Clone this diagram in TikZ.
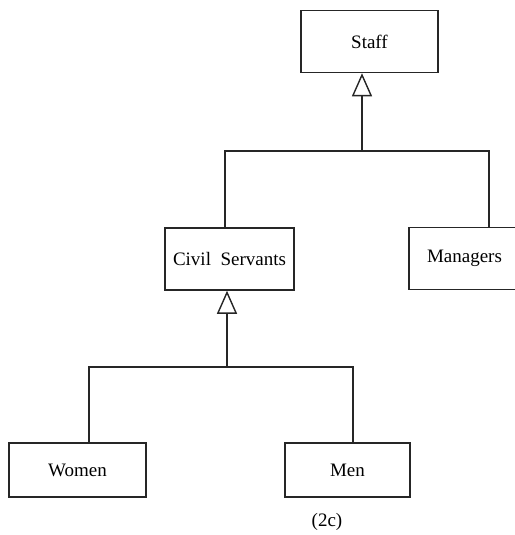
\documentclass[tikz,border=0pt]{standalone}
\usepackage{fontspec}
\setmainfont{Liberation Serif}
\usetikzlibrary{arrows.meta}

\begin{document}
\begin{tikzpicture}[x=1pt, y=-1pt,
        cls/.style={draw=black!85, line width=1.5pt, fill=white, inner sep=0pt, minimum height=62pt, font=\fontsize{19}{22}\selectfont},
        link/.style={draw=black!85, line width=1.4pt},
        gen/.style={link, -{Triangle[open, length=23pt, width=20pt, fill=white]}}]
        \useasboundingbox (0,0) rectangle (514,535);

        \node[cls, minimum width=137pt] (staff) at (369.5,41.5) {Staff};
        \node[cls, minimum width=129pt] (cs) at (229.5,259) {Civil\ \ Servants};
        \node[cls, minimum width=111pt] (mg) at (464.5,258.5) {Managers};
        \node[cls, minimum width=137pt, minimum height=54pt] (women) at (77.5,470) {Women};
        \node[cls, minimum width=125pt, minimum height=54pt] (men) at (347.5,470) {Men};

        \coordinate (j1) at (362,151);
        \coordinate (j1l) at (225,151);
        \coordinate (j1r) at (489,151);
        \coordinate (j2) at (227,367);
        \coordinate (j2l) at (89,367);
        \coordinate (j2r) at (353,367);

        \draw[link] (cs.north -| j1l) -- (j1l) -- (j1r) -- (mg.north -| j1r);
        \draw[gen] (j1) -- (j1 |- staff.south);
        \draw[link] (women.north -| j2l) -- (j2l) -- (j2r) -- (men.north -| j2r);
        \draw[gen] (j2) -- (j2 |- cs.south);

        \node[font=\fontsize{19}{22}\selectfont] (cap) at (327,522) {(2c)};
      \end{tikzpicture}
\end{document}
